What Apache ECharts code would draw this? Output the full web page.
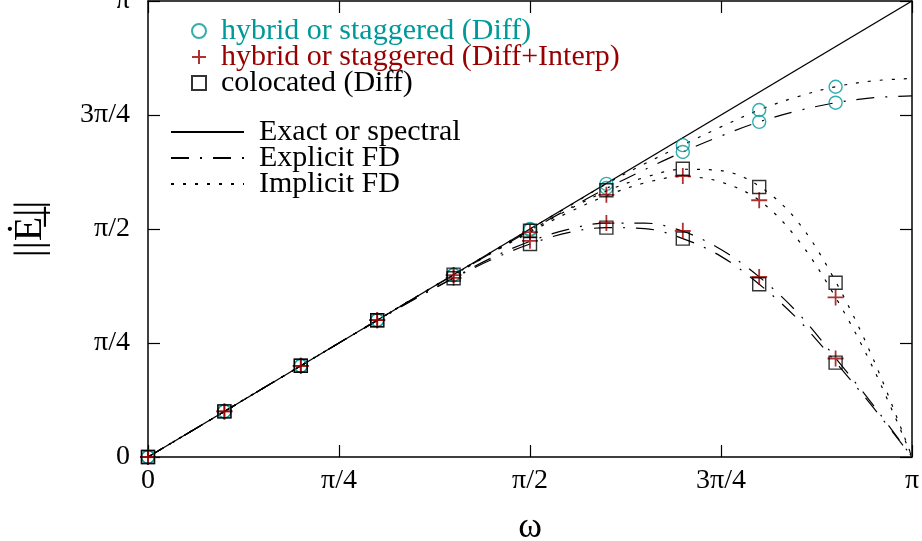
<!DOCTYPE html>
<html>
<head>
<meta charset="utf-8">
<script src="https://cdn.jsdelivr.net/npm/echarts@6/dist/echarts.min.js"></script>
<style>html,body{margin:0;padding:0;background:#fff;}#c{width:922px;height:541px;}</style>
</head>
<body>
<div id="c"></div>
<script>
// values in units of pi
const tickLabels = ['0', 'π/4', 'π/2', '3π/4', 'π'];
const markX = [0, 0.1, 0.2, 0.3, 0.4, 0.5, 0.6, 0.7, 0.8, 0.9];
const curveX = [0, 0.05, 0.1, 0.15, 0.2, 0.25, 0.3, 0.35, 0.4, 0.45, 0.5, 0.55, 0.6, 0.65, 0.7, 0.75, 0.8, 0.85, 0.9, 0.95, 1];

const exactX = [0, 1];
const exactY = [0, 1];
const upperImpl = [0, 0.05, 0.1, 0.15, 0.2, 0.25, 0.3, 0.35, 0.4, 0.45, 0.5, 0.549, 0.599, 0.643, 0.684, 0.724, 0.761, 0.79, 0.812, 0.825, 0.83];
const upperExpl = [0, 0.05, 0.1, 0.15, 0.2, 0.25, 0.3, 0.35, 0.399, 0.448, 0.497, 0.544, 0.589, 0.63, 0.669, 0.704, 0.735, 0.759, 0.777, 0.788, 0.792];
const lowerImplA = [0, 0.05, 0.1, 0.15, 0.2, 0.25, 0.3, 0.35, 0.4, 0.449, 0.496, 0.542, 0.583, 0.613, 0.631, 0.628, 0.594, 0.517, 0.385, 0.212, 0];
const lowerImplB = [0, 0.05, 0.1, 0.15, 0.2, 0.25, 0.3, 0.35, 0.398, 0.447, 0.493, 0.536, 0.573, 0.601, 0.615, 0.603, 0.563, 0.478, 0.35, 0.192, 0];
const lowerExplA = [0, 0.05, 0.1, 0.15, 0.2, 0.25, 0.299, 0.347, 0.392, 0.433, 0.467, 0.492, 0.503, 0.501, 0.479, 0.44, 0.379, 0.303, 0.208, 0.107, 0];
const lowerExplB = [0, 0.05, 0.1, 0.15, 0.2, 0.25, 0.3, 0.348, 0.393, 0.437, 0.473, 0.499, 0.513, 0.513, 0.495, 0.455, 0.395, 0.317, 0.217, 0.112, 0];

const circleImpl = [0, 0.1, 0.2, 0.3, 0.4, 0.5, 0.599, 0.684, 0.761, 0.812];
const circleExpl = [0, 0.1, 0.2, 0.3, 0.399, 0.498, 0.59, 0.669, 0.735, 0.777];
const plusImpl = [0, 0.1, 0.2, 0.3, 0.399, 0.493, 0.575, 0.616, 0.563, 0.35];
const plusExpl = [0, 0.1, 0.2, 0.3, 0.393, 0.474, 0.513, 0.496, 0.395, 0.216];
const squareImpl = [0, 0.1, 0.2, 0.3, 0.4, 0.496, 0.585, 0.632, 0.592, 0.382];
const squareExpl = [0, 0.1, 0.2, 0.3, 0.392, 0.467, 0.503, 0.479, 0.379, 0.207];

const names = {
  circ: 'hybrid or staggered (Diff)',
  plus: 'hybrid or staggered (Diff+Interp)',
  sq: 'colocated (Diff)',
  exact: 'Exact or spectral',
  expl: 'Explicit FD',
  impl: 'Implicit FD'
};
const TEAL = '#009999', RED = '#990000';
const FONT = 'Liberation Serif';

function zip(xs, ys) { return xs.map((x, i) => [x, ys[i]]); }
function two(a, b) { return zip(markX, a).concat(zip(markX, b)); }

const dashDot = [18, 11, 2, 11];
const dotted = [3, 9];
function line(name, xs, ys, type, w) {
  return { name, type: 'line', data: zip(xs, ys), symbol: 'none', smooth: 0.35,
    lineStyle: { color: '#000', width: w || 1.2, type }, itemStyle: { color: '#000' },
    z: 2, silent: true, animation: false };
}

const fmt = v => {
  const idx = Math.round(v / 0.25);
  return Math.abs(v - idx * 0.25) < 1e-6 ? tickLabels[idx] : '';
};

const chart = echarts.init(document.getElementById('c'), null, { renderer: 'canvas' });
const axisCommon = {
  type: 'value', min: 0, max: 1, interval: 0.25,
  axisLine: { show: true, onZero: false, lineStyle: { color: '#000', width: 1.5 } },
  axisTick: { show: true, inside: true, length: 12, lineStyle: { color: '#000', width: 1.2 } },
  splitLine: { show: false }
};
chart.setOption({
  animation: false,
  backgroundColor: '#fff',
  grid: { left: 148, right: 10, top: 1, bottom: 84, containLabel: false, outerBoundsMode: 'none' },
  xAxis: [
    Object.assign({}, axisCommon, { position: 'bottom',
      axisLabel: { formatter: fmt, fontFamily: FONT, fontSize: 28, color: '#000', margin: 10 },
      name: 'ω', nameLocation: 'middle', nameGap: 53,
      nameTextStyle: { fontFamily: FONT, fontSize: 36, color: '#000' } }),
    Object.assign({}, axisCommon, { position: 'top', axisLabel: { show: false } })
  ],
  yAxis: [
    Object.assign({}, axisCommon, { position: 'left',
      axisLabel: { formatter: fmt, fontFamily: FONT, fontSize: 28, color: '#000', margin: 18 },
      name: '||Ė̲||', nameLocation: 'middle', nameGap: 98, nameRotate: 90,
      nameTextStyle: { fontFamily: FONT, fontSize: 40, color: '#000' } }),
    Object.assign({}, axisCommon, { position: 'right', axisLabel: { show: false } })
  ],
  legend: [
    { orient: 'vertical', left: 186, top: 11, itemWidth: 14, itemHeight: 14, itemGap: -4,
      selectedMode: false,
      textStyle: { fontFamily: FONT, fontSize: 30, lineHeight: 26, padding: [0, 0, 0, 10] },
      data: [
        { name: names.circ, textStyle: { color: TEAL } },
        { name: names.plus, textStyle: { color: RED } },
        { name: names.sq, textStyle: { color: '#000' } }
      ] },
    { orient: 'vertical', left: 165, top: 112, itemWidth: 73, itemHeight: 14, itemGap: -4,
      selectedMode: false,
      itemStyle: { color: 'rgba(0,0,0,0)', borderWidth: 0, opacity: 0 },
      textStyle: { fontFamily: FONT, fontSize: 30, lineHeight: 26, color: '#000', padding: [0, 0, 0, 10] },
      data: [names.exact, names.expl, names.impl] }
  ],
  series: [
    line(names.exact, exactX, exactY, 'solid', 1.4),
    line(names.expl, curveX, upperExpl, dashDot),
    line(names.expl, curveX, lowerExplA, dashDot),
    line(names.expl, curveX, lowerExplB, dashDot),
    line(names.impl, curveX, upperImpl, dotted),
    line(names.impl, curveX, lowerImplA, dotted),
    line(names.impl, curveX, lowerImplB, dotted),
    { name: names.circ, type: 'scatter', data: two(circleImpl, circleExpl), symbol: 'circle', symbolSize: 13,
      itemStyle: { color: 'rgba(0,0,0,0)', borderColor: TEAL, borderWidth: 1.4 }, z: 3, silent: true },
    { name: names.plus, type: 'scatter', data: two(plusImpl, plusExpl), symbol: 'path://M0,8H16M8,0V16', symbolSize: 16,
      itemStyle: { color: 'rgba(0,0,0,0)', borderColor: RED, borderWidth: 1.8 }, z: 4, silent: true },
    { name: names.sq, type: 'scatter', data: two(squareImpl, squareExpl), symbol: 'rect', symbolSize: 13,
      itemStyle: { color: 'rgba(0,0,0,0)', borderColor: '#000', borderWidth: 1.4 }, z: 5, silent: true }
  ]
});
</script>
</body>
</html>
